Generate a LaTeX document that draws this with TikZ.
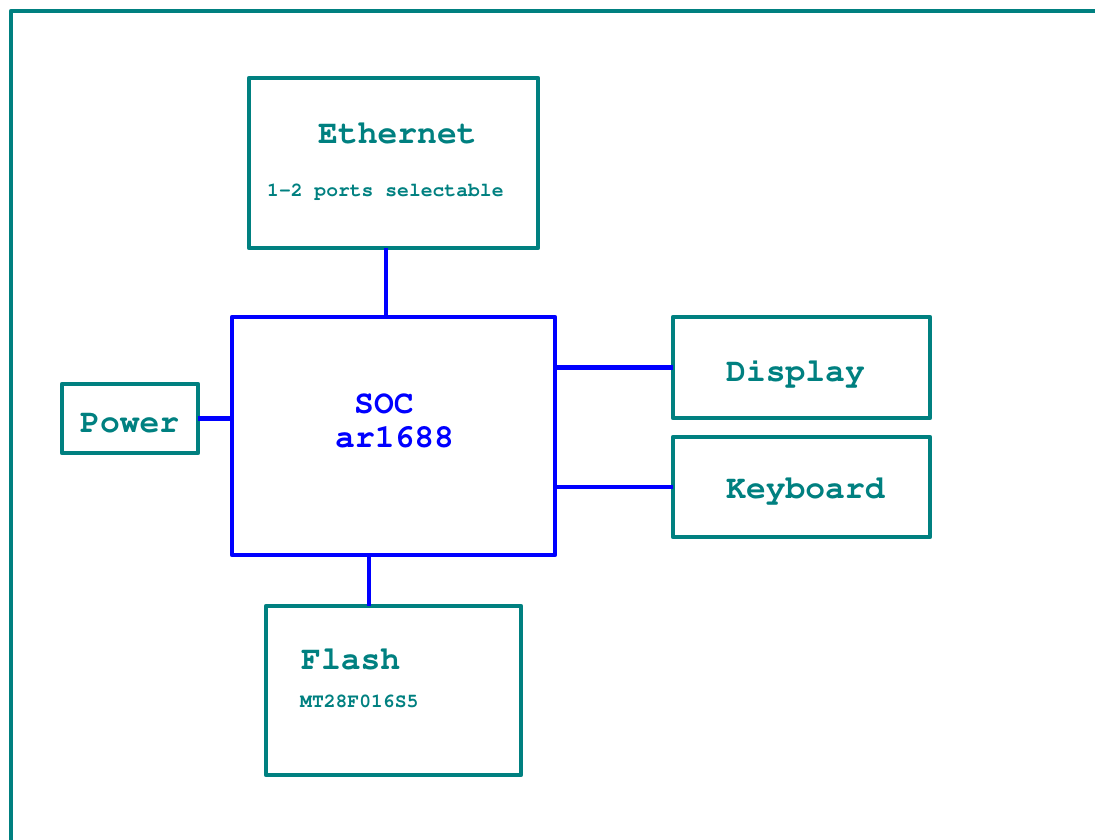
\documentclass[tikz,border=0pt]{standalone}
\usepackage[T1]{fontenc}
\usepackage{courier}
\definecolor{boxteal}{RGB}{0,128,128}
\definecolor{busblue}{RGB}{0,0,255}
\tikzset{
  unit/.style={draw=boxteal, line width=4.5pt, outer sep=0pt, inner sep=0pt},
  core/.style={draw=busblue, line width=4.5pt, outer sep=0pt, inner sep=0pt},
  bus/.style={draw=busblue, line width=4.5pt},
  bigtxt/.style={anchor=base west, inner sep=0pt, text=boxteal,
    font=\ttfamily\bfseries\fontsize{33}{36}\selectfont},
  smalltxt/.style={anchor=base west, inner sep=0pt, text=boxteal,
    font=\ttfamily\bfseries\fontsize{19.7}{22}\selectfont}
}
\begin{document}
\begin{tikzpicture}[x=1pt,y=-1pt,line join=round]

\useasboundingbox (0,0) rectangle (1095,840);
\clip (0,0) rectangle (1095,840);

% The outer frame of the board
\draw[boxteal,line width=4.5pt] (11,870) -- (11,11) -- (1120,11);

% The processor in the middle
\node[core, minimum width=323pt, minimum height=238pt] (soc) at (393.5,436) {};
\node[bigtxt, text=busblue] (soctxt) at (354,413) {SOC};
\node[bigtxt, text=busblue] (socname) at (335,447) {ar1688};

% The parts round it
\node[unit, minimum width=289pt, minimum height=170pt] (eth) at (393.5,163) {};
\node[bigtxt] (ethtxt) at (318,143) {Ethernet};
\node[smalltxt] (ethnote) at (267,196) {1-2 ports selectable};

\node[unit, minimum width=136pt, minimum height=69pt] (pwr) at (130,418.5) {};
\node[bigtxt] (pwrtxt) at (80,432) {Power};

\node[unit, minimum width=257pt, minimum height=101pt] (dsp) at (801.5,367.5) {};
\node[bigtxt] (dsptxt) at (726,381) {Display};

\node[unit, minimum width=257pt, minimum height=100pt] (kbd) at (801.5,487) {};
\node[bigtxt] (kbdtxt) at (726,498) {Keyboard};

\node[unit, minimum width=255pt, minimum height=169pt] (fl) at (393.5,690.5) {};
\node[bigtxt] (fltxt) at (301,669) {Flash};
\node[smalltxt] (flnote) at (300,707) {MT28F016S5};

% The buses to the processor
\coordinate (ethbus) at (386,0);
\coordinate (flbus) at (369,0);
\draw[bus] (eth.south -| ethbus) -- (soc.north -| ethbus);
\draw[bus] (pwr.east) -- (pwr.east -| soc.west);
\draw[bus] (soc.east |- dsp.west) -- (dsp.west);
\draw[bus] (soc.east |- kbd.west) -- (kbd.west);
\draw[bus] (soc.south -| flbus) -- (fl.north -| flbus);

\end{tikzpicture}
\end{document}
